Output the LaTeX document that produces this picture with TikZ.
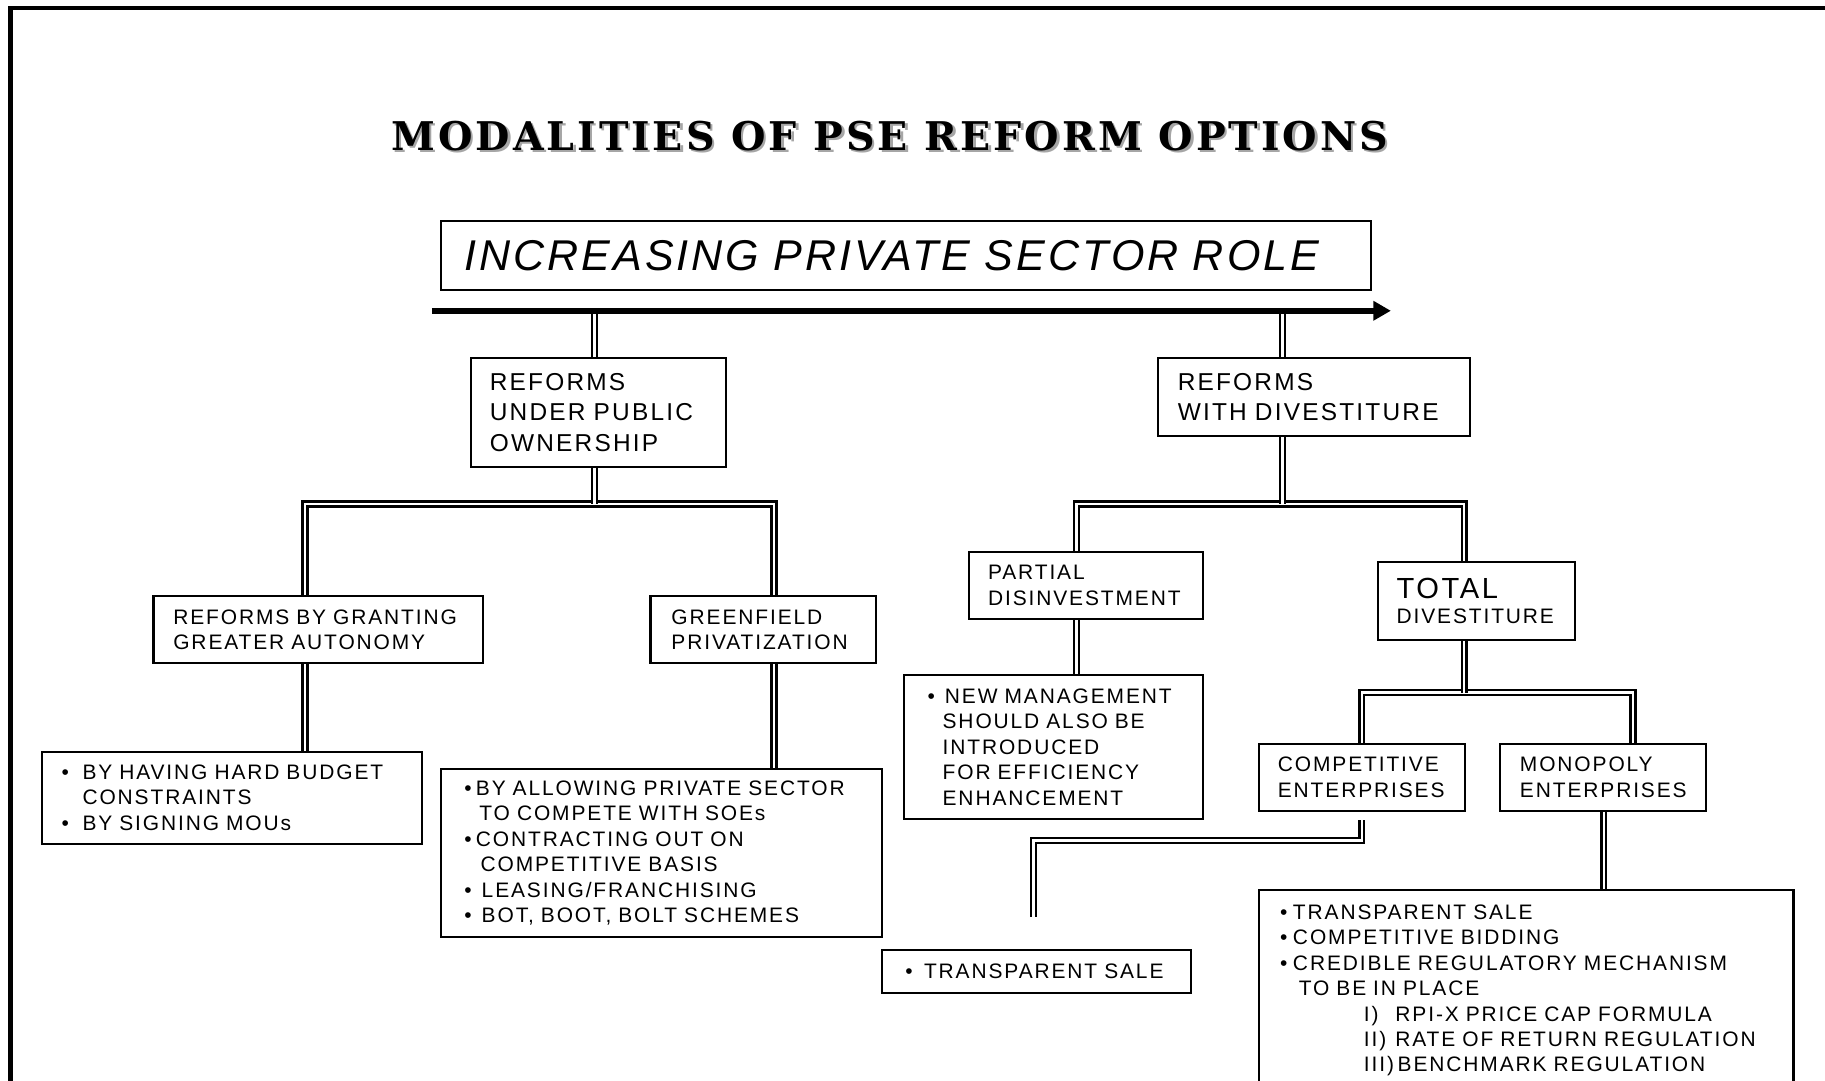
\documentclass[tikz,border=0pt]{standalone}
\usepackage{fontspec}
\usetikzlibrary{arrows.meta,backgrounds}
\newfontfamily\ls[LetterSpace=9]{Liberation Sans}
\newfontfamily\lsi[LetterSpace=7]{Liberation Sans}
\newfontfamily\tfont[LetterSpace=7.5]{DejaVu Serif}
\newcommand{\bul}[1]{\makebox[#1][l]{•}}
\tikzset{
  bx/.style={draw, line width=0.9pt, anchor=north west, align=left, inner ysep=0pt,
             font=\ls\fontsize{9}{10.9}\selectfont},
  bxl/.style={bx, font=\ls\fontsize{10.5}{13}\selectfont},
  dbl/.style={draw, line width=1pt, double=white, double distance=1.1pt},
}
\begin{document}
\begin{tikzpicture}[x=0.5pt,y=-0.5pt]
\useasboundingbox (0,0) rectangle (1568,928);
\begin{scope}
\clip (0,0) rectangle (1568,928);
% frame
\draw[line width=2pt] (9,940) -- (9,7) -- (1580,7);
% title
\node[text=gray!70, font=\tfont\bfseries\fontsize{17}{20}\selectfont] at (766.5,119) {MODALITIES OF PSE REFORM OPTIONS};
\node[font=\tfont\bfseries\fontsize{17}{20}\selectfont] (title) at (764.5,117) {MODALITIES OF PSE REFORM OPTIONS};
% top box
\node[draw, line width=0.9pt, anchor=north west, text width=379.5pt, inner xsep=10pt, inner ysep=0pt,
      minimum height=29.5pt, align=left, font=\lsi\itshape\fontsize{18.5}{20}\selectfont]
      (inc) at (378,189) {INCREASING PRIVATE SECTOR ROLE};
\coordinate (arrS) at (371,267);
\coordinate (arrE) at (1195,267);
% level 1
\node[bxl, text width=93.5pt, inner xsep=8pt, minimum height=46.5pt] (pub) at (404,307)
  {REFORMS\\UNDER PUBLIC\\OWNERSHIP};
\node[bxl, text width=117pt, inner xsep=8.5pt, minimum height=33.5pt] (div) at (994,307)
  {REFORMS\\WITH DIVESTITURE};
% level 2 left
\node[bx, text width=124.5pt, inner xsep=8.5pt, minimum height=29pt] (aut) at (131,511)
  {REFORMS BY GRANTING\\GREATER AUTONOMY};
\node[bx, text width=79pt, inner xsep=9pt, minimum height=29pt] (green) at (558,511)
  {GREENFIELD\\PRIVATIZATION};
\node[bx, text width=146.5pt, inner xsep=8.5pt, minimum height=39.5pt] (hard) at (35,645)
  {\bul{9pt}BY HAVING HARD BUDGET\\\hspace*{9pt}CONSTRAINTS\\\bul{9pt}BY SIGNING MOUs};
\node[bx, text width=169.5pt, inner xsep=10pt, minimum height=72pt] (allow) at (378,660)
  {\bul{5pt}BY ALLOWING PRIVATE SECTOR\\\hspace*{6.5pt}TO COMPETE WITH SOEs\\
   \bul{5pt}CONTRACTING OUT ON\\\hspace*{7pt}COMPETITIVE BASIS\\
   \bul{7.5pt}LEASING/FRANCHISING\\\bul{7.5pt}BOT, BOOT, BOLT SCHEMES};
% level 2 right
\node[bx, text width=84.5pt, inner xsep=8pt, minimum height=29pt] (partial) at (832,473)
  {PARTIAL\\DISINVESTMENT};
\node[bx, text width=68.5pt, inner xsep=8pt, minimum height=33.5pt] (total) at (1183,482)
  {{\fontsize{12.5}{13}\selectfont TOTAL}\\DIVESTITURE};
\node[bx, text width=108.5pt, inner xsep=10pt, minimum height=62pt] (newm) at (776,579)
  {\bul{7.5pt}NEW MANAGEMENT\\\hspace*{6.5pt}SHOULD ALSO BE\\\hspace*{6.5pt}INTRODUCED\\
   \hspace*{6.5pt}FOR EFFICIENCY\\\hspace*{6.5pt}ENHANCEMENT};
\node[bx, text width=72.5pt, inner xsep=8pt, minimum height=29pt] (comp) at (1081,638)
  {COMPETITIVE\\ENTERPRISES};
\node[bx, text width=71.5pt, inner xsep=8.5pt, minimum height=29pt] (mono) at (1288,638)
  {MONOPOLY\\ENTERPRISES};
\node[bx, text width=112.5pt, inner xsep=10pt, minimum height=18.5pt] (tsale) at (757,815)
  {\bul{8pt}TRANSPARENT SALE};
\node[bx, text width=211.5pt, inner xsep=9pt, inner ysep=6.3pt] (big) at (1081,764)
  {\bul{5.5pt}TRANSPARENT SALE\\\bul{5.5pt}COMPETITIVE BIDDING\\
   \bul{5.5pt}CREDIBLE REGULATORY MECHANISM\\\hspace*{8pt}TO BE IN PLACE\\
   \hspace*{36pt}\makebox[13.5pt][l]{I)}RPI-X PRICE CAP FORMULA\\
   \hspace*{36pt}\makebox[13.5pt][l]{II)}RATE OF RETURN REGULATION\\
   \hspace*{36pt}\makebox[13.5pt][l]{III)}\hspace{1pt}BENCHMARK REGULATION\\[14pt]};
% connectors
\begin{pgfonlayer}{background}
\coordinate (a1) at (511,267);
\coordinate (a2) at (1102,267);
\draw[dbl] (a1) -- (a1 |- pub.north);
\draw[dbl] (a2) -- (a2 |- div.north);
% left tree
\coordinate (bL1) at (262,433);
\coordinate (bL2) at (665,433);
\coordinate (b1) at (511,433);
\draw[dbl] (bL1 |- aut.north) -- (bL1) -- (bL2) -- (bL2 |- green.north);
\draw[dbl] (b1 |- pub.south) -- (b1);
\draw[dbl] (bL1 |- aut.south) -- (bL1 |- hard.north);
\draw[dbl] (bL2 |- green.south) -- (bL2 |- allow.north);
% right tree
\coordinate (bR1) at (925,433);
\coordinate (bR2) at (1258,433);
\coordinate (b2) at (1102,433);
\draw[dbl] (bR1 |- partial.north) -- (bR1) -- (bR2) -- (bR2 |- total.north);
\draw[dbl] (b2 |- div.south) -- (b2);
\draw[dbl] (bR1 |- partial.south) -- (bR1 |- newm.north);
% total tree
\coordinate (bT1) at (1170,595);
\coordinate (bT2) at (1403,595);
\coordinate (b3) at (1258,595);
\draw[dbl] (bT1 |- comp.north) -- (bT1) -- (bT2) -- (bT2 |- mono.north);
\draw[dbl] (b3 |- total.south) -- (b3);
% competitive -> free end
\coordinate (c1) at (1170,722);
\coordinate (c2) at (888,722);
\coordinate (cEnd) at (888,788);
\draw[dbl] ([yshift=-3.5pt]c1 |- comp.south) -- (c1) -- (c2) -- (cEnd);
% monopoly -> big
\coordinate (m1) at (1378,700);
\draw[dbl] (m1 |- mono.south) -- (m1 |- big.north);
\end{pgfonlayer}
% arrow
\draw[line width=2.6pt, -{Triangle[length=7.5pt,width=8pt]}] (arrS) -- (arrE);
\end{scope}
\end{tikzpicture}
\end{document}
